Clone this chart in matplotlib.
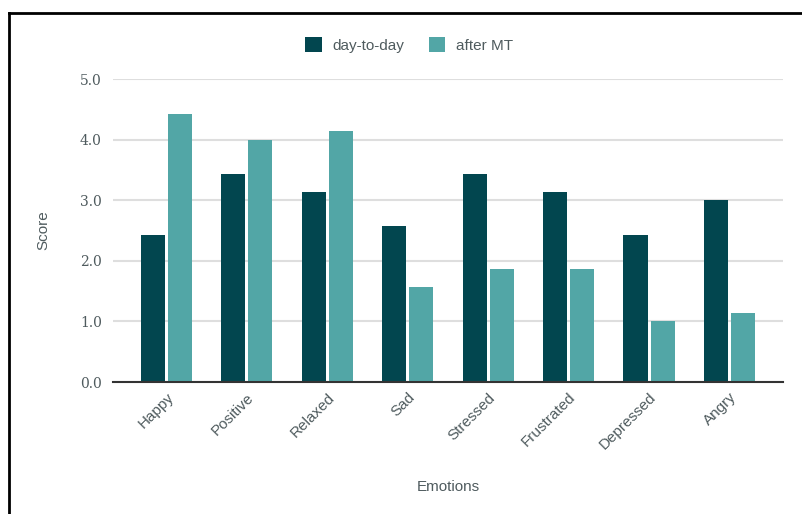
import numpy as np
import matplotlib.pyplot as plt
from matplotlib.lines import Line2D

# emotion scores (mean, 0-5 scale)
emotions = ['Happy', 'Positive', 'Relaxed', 'Sad', 'Stressed',
            'Frustrated', 'Depressed', 'Angry']
day_to_day = [2.43, 3.43, 3.14, 2.57, 3.43, 3.14, 2.43, 3.0]
after_mt = [4.43, 4.0, 4.14, 1.57, 1.86, 1.86, 1.0, 1.14]
yticks = [0.0, 1.0, 2.0, 3.0, 4.0, 5.0]

dark = '#02464f'
teal = '#52a6a6'
txt = '#4f5b5e'

fig = plt.figure(figsize=(8.02, 5.14), dpi=100)
ax = fig.add_axes([0.1409, 0.2568, 0.8354, 0.5895])

x = np.arange(len(emotions))
w = 0.3
off = 0.168
ax.bar(x - off, day_to_day, w, color=dark, label='day-to-day', zorder=3)
ax.bar(x + off, after_mt, w, color=teal, label='after MT', zorder=3)

ax.set_xlim(-0.665, len(emotions) - 1 + 0.665)
ax.set_ylim(0, 5.0)
ax.set_yticks(yticks)
ax.set_yticklabels(['%.1f' % v for v in yticks], family='DejaVu Serif',
                   fontsize=10, color=txt)
ax.set_xticks(x)
ax.set_xticklabels(emotions, rotation=45, ha='right', rotation_mode='anchor',
                   family='Liberation Sans', fontsize=11, color=txt)
ax.tick_params(axis='both', length=0)
ax.tick_params(axis='y', pad=8)
ax.tick_params(axis='x', pad=6)

ax.grid(axis='y', color='#dedede', linewidth=1.5, zorder=0)
for s in ['top', 'right', 'left']:
    ax.spines[s].set_visible(False)
ax.spines['bottom'].set_color('#333333')
ax.spines['bottom'].set_linewidth(1.5)
ax.spines['bottom'].set_zorder(4)

ax.set_ylabel('Score', family='Liberation Sans', fontsize=11, color=txt,
              labelpad=21)
ax.set_xlabel('Emotions', family='Liberation Sans', fontsize=11, color=txt,
              labelpad=20)

leg = fig.legend(loc='center', bbox_to_anchor=(0.51, 0.912), ncol=2,
                 frameon=False, handlelength=1.1, handleheight=1.1,
                 handletextpad=0.7, columnspacing=1.6,
                 prop={'family': 'Liberation Sans', 'size': 11})
for t in leg.get_texts():
    t.set_color(txt)

# black frame on top and left
fig.add_artist(Line2D([9 / 802, 1], [1 - 13 / 514, 1 - 13 / 514],
                      color='black', linewidth=2, transform=fig.transFigure))
fig.add_artist(Line2D([9 / 802, 9 / 802], [0, 1 - 13 / 514],
                      color='black', linewidth=2, transform=fig.transFigure))

fig.savefig('out.png', dpi=100)
